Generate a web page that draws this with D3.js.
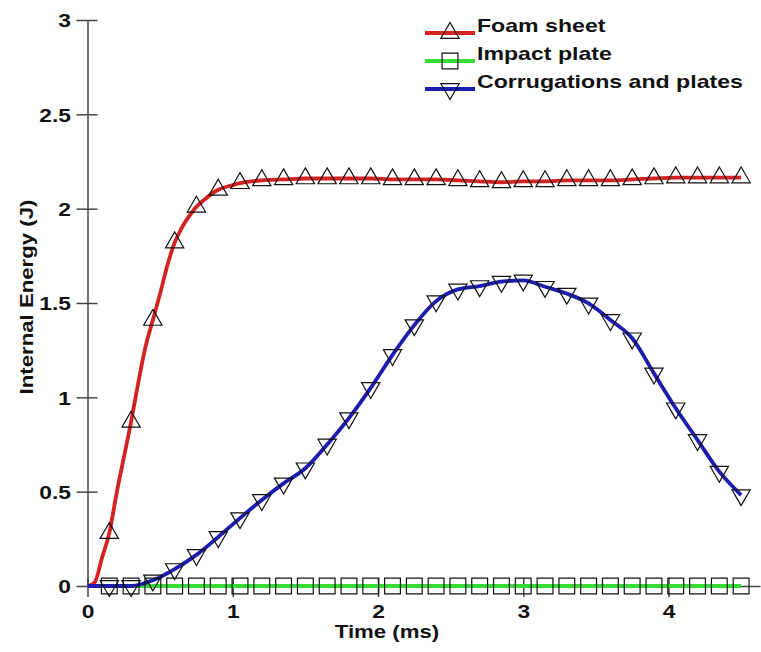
<!DOCTYPE html>
<html>
<head>
<meta charset="utf-8">
<script src="https://cdn.jsdelivr.net/npm/d3@7"></script>
<style>
body { margin: 0; background: #fff; }
text { font-family: "Liberation Sans", Arial, sans-serif; font-weight: bold; fill: #111; }
</style>
</head>
<body>
<div class="chart"></div>
<script>
// time (ms) on a 0.15 ms grid, used by the plate and corrugation curves
const gridTime = [0, 0.15, 0.3, 0.45, 0.6, 0.75, 0.9, 1.05, 1.2, 1.35, 1.5, 1.65, 1.8, 1.95, 2.1, 2.25,
    2.4, 2.55, 2.7, 2.85, 3.0, 3.15, 3.3, 3.45, 3.6, 3.75, 3.9, 4.05, 4.2, 4.35, 4.5];
const plateEnergy = [0, 0, 0, 0, 0, 0, 0, 0, 0, 0, 0, 0, 0, 0, 0, 0,
    0, 0, 0, 0, 0, 0, 0, 0, 0, 0, 0, 0, 0, 0, 0];
const corrEnergy = [0, 0, 0, 0.03, 0.09, 0.165, 0.26, 0.36, 0.456, 0.544, 0.624, 0.75, 0.89, 1.05, 1.225, 1.383,
    1.51, 1.572, 1.59, 1.613, 1.62, 1.586, 1.55, 1.498, 1.41, 1.313, 1.127, 0.942, 0.774, 0.606, 0.482];

// foam sheet is sampled finer during the fast rise
const foamTime = [0, 0.05, 0.1, 0.15, 0.2, 0.25, 0.3, 0.35, 0.4, 0.45, 0.5, 0.55, 0.6, 0.65, 0.7, 0.75, 0.8, 0.9,
    1.0, 1.05, 1.2, 1.35, 1.5, 1.65, 1.8, 1.95, 2.1, 2.25, 2.4, 2.55, 2.7, 2.85, 3.0, 3.15, 3.3, 3.45,
    3.6, 3.75, 3.9, 4.05, 4.2, 4.35, 4.5];
const foamEnergy = [0, 0.02, 0.15, 0.28, 0.49, 0.68, 0.87, 1.08, 1.27, 1.41, 1.55, 1.70, 1.82, 1.90, 1.96, 2.01, 2.045, 2.10,
    2.125, 2.135, 2.15, 2.155, 2.16, 2.16, 2.16, 2.16, 2.155, 2.155, 2.155, 2.15, 2.145, 2.14, 2.145, 2.145, 2.15, 2.15,
    2.15, 2.155, 2.16, 2.165, 2.165, 2.165, 2.165];

// markers sit every 0.15 ms
const markerTimes = [0.15, 0.3, 0.45, 0.6, 0.75, 0.9, 1.05, 1.2, 1.35, 1.5, 1.65, 1.8, 1.95, 2.1, 2.25,
    2.4, 2.55, 2.7, 2.85, 3.0, 3.15, 3.3, 3.45, 3.6, 3.75, 3.9, 4.05, 4.2, 4.35, 4.5];

const xTicks = [0, 1, 2, 3, 4];
const yTicks = [0, 0.5, 1, 1.5, 2, 2.5, 3];
const seriesNames = ['Foam sheet', 'Impact plate', 'Corrugations and plates'];
const seriesColors = ['#d42222', '#33dd33', '#1c1cae'];

var width = 761
var height = 652
var sx = 1.2   // the lettering in the picture is stretched sideways
var axisColor = '#444'

var svg = d3
    .select('.chart')
    .append('svg')
    .attr('width', width)
    .attr('height', height)
    .style('background-color', '#fff')

var xScale = d3.scaleLinear().domain([0, 4.63]).range([87.5, 760])
var yScale = d3.scaleLinear().domain([0, 3]).range([586, 20])

const zip = (ts, vs) => ts.map((t, i) => ({ t: t, v: vs[i] }))
const series = [
    { name: seriesNames[0], color: seriesColors[0], data: zip(foamTime, foamEnergy), shape: 'up' },
    { name: seriesNames[1], color: seriesColors[1], data: zip(gridTime, plateEnergy), shape: 'square' },
    { name: seriesNames[2], color: seriesColors[2], data: zip(gridTime, corrEnergy), shape: 'down' }
]

// axes
const xAxis = d3.axisBottom(xScale).tickValues(xTicks).tickFormat(d3.format('d')).tickSizeOuter(0).tickSizeInner(11)
var gx = svg.append('g').attr('class', 'xAxis').attr('transform', `translate(0, ${yScale(0)})`).call(xAxis)
gx.selectAll('.tick line').attr('y1', -8)
gx.selectAll('.tick text')
    .attr('y', 32)
    .attr('dy', null)
    .attr('transform', `scale(${sx},1)`)

const yAxis = d3.axisLeft(yScale).tickValues(yTicks).tickFormat((d) => d).tickSizeOuter(0).tickSizeInner(11)
var gy = svg.append('g').attr('class', 'yAxis').attr('transform', `translate(${xScale(0)}, 0)`).call(yAxis)
gy.selectAll('.tick line').attr('x2', 10).attr('x1', -11)
gy.selectAll('.tick text')
    .attr('x', -16.5 / sx)
    .attr('dy', '0.36em')
    .attr('transform', `scale(${sx},1)`)

svg.selectAll('.xAxis, .yAxis')
    .attr('font-size', 19)
    .attr('font-family', null)
svg.selectAll('.xAxis path, .xAxis line, .yAxis path, .yAxis line')
    .attr('stroke', axisColor)
    .attr('stroke-width', 1.5)

// axis titles
svg.append('text')
    .attr('transform', `translate(387, 638) scale(${sx},1)`)
    .attr('text-anchor', 'middle')
    .style('font-size', '18.5px')
    .text('Time (ms)')

svg.append('text')
    .attr('transform', `translate(33, 297) rotate(-90) scale(${sx},1)`)
    .attr('text-anchor', 'middle')
    .style('font-size', '18.5px')
    .text('Internal Energy (J)')

// curves
var line = d3.line()
    .x((d) => xScale(d.t))
    .y((d) => yScale(d.v))
    .curve(d3.curveMonotoneX)

const drawOrder = [1, 0, 2]
drawOrder.forEach((i) => {
    svg.append('path')
        .datum(series[i].data)
        .attr('fill', 'none')
        .attr('stroke', series[i].color)
        .attr('stroke-width', 3.8)
        .attr('stroke-linejoin', 'round')
        .attr('d', line)
})

// markers
function markerPath(shape) {
    if (shape === 'square') return d3.symbol().type(d3.symbolSquare).size(250)()
    return d3.symbol().type(d3.symbolTriangle).size(145)()
}
function markerTransform(shape, x, y) {
    return shape === 'down' ? `translate(${x},${y}) rotate(180)` : `translate(${x},${y})`
}
const isMarker = (t) => markerTimes.some((m) => Math.abs(m - t) < 1e-6)

drawOrder.forEach((i) => {
    var s = series[i]
    svg.append('g')
        .selectAll('path')
        .data(s.data.filter((d) => isMarker(d.t)))
        .join('path')
        .attr('d', markerPath(s.shape))
        .attr('transform', (d) => markerTransform(s.shape, xScale(d.t), yScale(d.v)))
        .attr('fill', 'none')
        .attr('stroke', '#111')
        .attr('stroke-width', 1.2)
})

// legend
var legend = svg.append('g').attr('class', 'legend')
series.forEach((s, i) => {
    var ly = 33 + i * 28
    legend.append('line')
        .attr('x1', 425).attr('x2', 475)
        .attr('y1', ly).attr('y2', ly)
        .attr('stroke', s.color)
        .attr('stroke-width', 3.8)
    legend.append('path')
        .attr('d', markerPath(s.shape))
        .attr('transform', markerTransform(s.shape, 450, ly))
        .attr('fill', 'none')
        .attr('stroke', '#111')
        .attr('stroke-width', 1.2)
    legend.append('text')
        .attr('transform', `translate(477, ${ly - 1}) scale(${sx + 0.05},1)`)
        .style('font-size', '18.5px')
        .text(s.name)
})
</script>
</body>
</html>
